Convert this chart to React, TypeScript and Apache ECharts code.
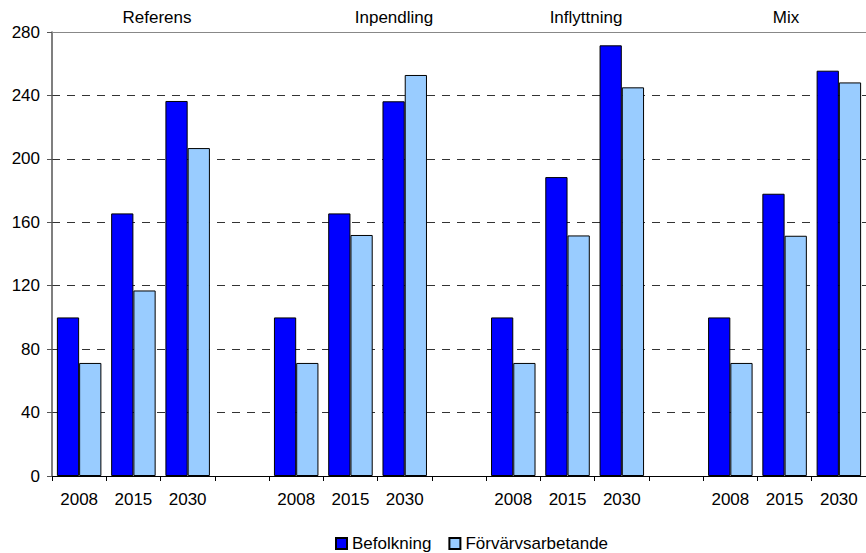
import React, { useEffect, useRef } from "react";
import * as echarts from "echarts";

const categories = ["2008", "2015", "2030", "", "2008", "2015", "2030", "", "2008", "2015", "2030", "", "2008", "2015", "2030"];
const befolkning = [100, 165.6, 236.5, "-", 100, 165.6, 236.3, "-", 100, 188.5, 271.6, "-", 100, 178, 255.6];
const forvarvsarbetande = [71.3, 117, 206.8, "-", 71.3, 152, 252.9, "-", 71.3, 151.7, 245.1, "-", 71.3, 151.5, 248.2];
const groupTitles = ["Referens", "Inpendling", "Inflyttning", "Mix"];
const groupTitleX = [157, 394, 586, 786];
const seriesNames = ["Befolkning", "Förvärvsarbetande"];
const yTicks = { min: 0, max: 280, interval: 40 };

const FONT = "'Liberation Sans', Arial, sans-serif";

export default function App() {
  const ref = useRef<HTMLDivElement>(null);
  useEffect(() => {
    if (!ref.current) return;
    const chart = echarts.init(ref.current, undefined, { renderer: "svg" });
    chart.setOption({
      animation: false,
      backgroundColor: "#ffffff",
      textStyle: { fontFamily: FONT },
      grid: { left: 52, top: 32, width: 817, height: 444 },
      legend: {
        left: 330,
        top: 530,
        itemWidth: 11,
        itemHeight: 11,
        itemGap: 17,
        icon: "rect",
        textStyle: { fontSize: 17, color: "#000", fontFamily: FONT },
        data: seriesNames,
      },
      graphic: groupTitles.map((t, i) => ({
        type: "text",
        x: groupTitleX[i],
        y: 17,
        style: {
          text: t,
          fontSize: 17,
          fontFamily: FONT,
          fill: "#000",
          align: "center",
          verticalAlign: "middle",
        },
      })),
      xAxis: [
        {
          type: "category",
          data: categories,
          boundaryGap: true,
          axisLine: { lineStyle: { color: "#000", width: 1 } },
          axisTick: { show: true, length: 5, inside: false, lineStyle: { color: "#000" }, alignWithLabel: false },
          axisLabel: { interval: 0, fontSize: 17, color: "#000", margin: 15, fontFamily: FONT },
          splitLine: { show: false },
        },
        {
          type: "category",
          data: categories,
          position: "top",
          axisLine: { show: true, lineStyle: { color: "#888", width: 1 } },
          axisTick: { show: false },
          axisLabel: { show: false },
          splitLine: { show: false },
        },
      ],
      yAxis: {
        type: "value",
        min: yTicks.min,
        max: yTicks.max,
        interval: yTicks.interval,
        axisLine: { show: true, lineStyle: { color: "#555", width: 1.5 } },
        axisTick: { show: true, length: 5, lineStyle: { color: "#555" } },
        axisLabel: { fontSize: 17, color: "#000", margin: 12, fontFamily: FONT },
        splitLine: { show: true, lineStyle: { color: "#333", type: [8, 7], width: 1 } },
      },
      series: [
        {
          name: seriesNames[0],
          type: "bar",
          data: befolkning,
          barGap: "0%",
          barCategoryGap: "18%",
          itemStyle: { color: "#0000FF", borderColor: "#000", borderWidth: 1 },
        },
        {
          name: seriesNames[1],
          type: "bar",
          data: forvarvsarbetande,
          barGap: "0%",
          barCategoryGap: "18%",
          itemStyle: { color: "#99CCFF", borderColor: "#000", borderWidth: 1 },
        },
      ],
    });
    return () => chart.dispose();
  }, []);
  return <div ref={ref} style={{ width: 866, height: 553, position: "absolute", left: 0, top: 0 }} />;
}
